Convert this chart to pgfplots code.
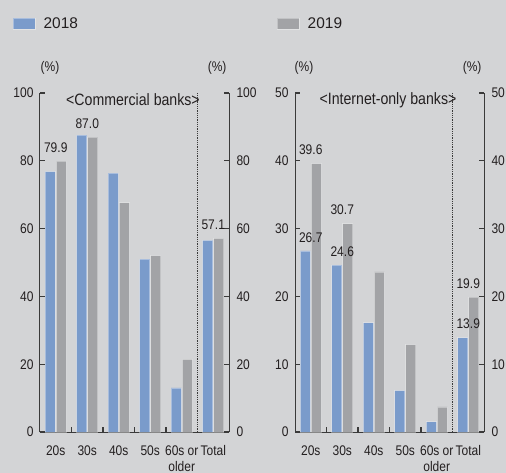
\documentclass[border=0pt]{standalone}
\usepackage{pgfplots}
\pgfplotsset{compat=1.18}
\usepackage{fontspec}
\setmainfont{Liberation Sans}
\newfontfamily\cond{Liberation Sans}[FakeStretch=0.86]
\definecolor{bg}{HTML}{D3D4D6}
\definecolor{cblue}{HTML}{7A9BCB}
\definecolor{cgray}{HTML}{A2A3A6}
\definecolor{txt}{HTML}{231F20}
\definecolor{axc}{HTML}{3A3A3A}
\pgfplotsset{
  panel/.style={
    scale only axis, width=189bp, height=339bp,
    xmin=-0.5, xmax=5.5, ymin=0,
    axis line style={axc, line width=1bp},
    major tick length=0pt,
    xtick={0,...,5},
    xticklabels={20s,30s,40s,50s,{60s or\\older},Total},
    x tick label style={font=\fontsize{14}{16}\cond, text=txt, align=center, yshift=-10bp},
    y tick label style={font=\fontsize{14}{15}\cond, text=txt},
    /pgf/number format/assume math mode=true,
    clip=false,
  },
  bars/.style={ybar, bar width=10bp, draw=white, draw opacity=0.35, line width=0.8bp,
    nodes near coords, point meta=explicit symbolic,
    every node near coord/.append style={font=\fontsize{14}{15}\cond, text=txt, anchor=south, yshift=5bp}},
}
\begin{document}
\begin{tikzpicture}
\fill[bg] (0,0) rectangle (506bp,473bp);
% ---------- Commercial banks ----------
\begin{axis}[panel, at={(40bp,41bp)}, anchor=south west,
  ymax=100, ytick={0,20,...,100},
  y tick label style={xshift=-3bp},
  axis x line*=bottom, axis y line*=left,
  legend style={at={(rel axis cs:-0.145,1.205)}, anchor=west, draw=none, fill=none,
    inner sep=0pt, legend columns=2, font=\fontsize{15.5}{16}\selectfont, text=txt,
    nodes={inner sep=0pt},
    /tikz/every odd column/.style={column sep=8bp},
    /tikz/every even column/.style={column sep=199bp}},
  legend image code/.code={\fill[#1] (0bp,-5.5bp) rectangle (22bp,5.5bp);},
  ]
\addplot[bars, bar shift=-5.5bp, fill=cblue] coordinates {
  (0,76.8) [] (1,87.6) [] (2,76.4) [] (3,51.0) [] (4,13.0) [] (5,56.5) []};
\addlegendentry{2018}
\addplot[bars, bar shift=5.5bp, fill=cgray] coordinates {
  (0,79.9) [79.9] (1,87.0) [87.0] (2,67.6) [] (3,52.0) [] (4,21.4) [] (5,57.1) [57.1]};
\addlegendentry{2019}
\draw[axc, densely dotted, line width=0.8bp] (axis cs:4.5,0) -- (axis cs:4.5,100);
\pgfplotsinvokeforeach{0.5,1.5,2.5,3.5}{\draw[axc, line width=1.3bp] (axis cs:#1,0) -- (axis cs:#1,1.4);}
\pgfplotsinvokeforeach{0,20,40,60,80,100}{
  \draw[axc, line width=1.3bp] (axis cs:-0.5,#1) -- (axis cs:-0.33,#1);
  \draw[axc, line width=1.3bp] (axis cs:5.5,#1) -- (axis cs:5.33,#1);}
\node[font=\fontsize{16.5}{17}\cond, text=txt] at (rel axis cs:0.492,1) [yshift=-7bp] {<Commercial banks>};
\node[font=\fontsize{14}{15}\cond, text=txt] at (rel axis cs:0.053,1) [yshift=25bp] {(\%)};
\node[font=\fontsize{14}{15}\cond, text=txt] at (rel axis cs:0.937,1) [yshift=25bp] {(\%)};
\end{axis}
\begin{axis}[panel, at={(40bp,41bp)}, anchor=south west,
  ymax=100, ytick={0,20,...,100},
  y tick label style={xshift=4bp},
  axis x line=none, axis y line*=right]
\end{axis}
% ---------- Internet-only banks ----------
\begin{axis}[panel, at={(295bp,41bp)}, anchor=south west,
  ymax=50, ytick={0,10,...,50},
  y tick label style={xshift=-3bp},
  axis x line*=bottom, axis y line*=left]
\addplot[bars, bar shift=-5.5bp, fill=cblue] coordinates {
  (0,26.7) [26.7] (1,24.6) [24.6] (2,16.1) [] (3,6.1) [] (4,1.5) [] (5,13.9) [13.9]};
\addplot[bars, bar shift=5.5bp, fill=cgray] coordinates {
  (0,39.6) [39.6] (1,30.7) [30.7] (2,23.6) [] (3,12.9) [] (4,3.7) [] (5,19.9) [19.9]};
\draw[axc, densely dotted, line width=0.8bp] (axis cs:4.5,0) -- (axis cs:4.5,50);
\pgfplotsinvokeforeach{0.5,1.5,2.5,3.5}{\draw[axc, line width=1.3bp] (axis cs:#1,0) -- (axis cs:#1,0.7);}
\pgfplotsinvokeforeach{0,10,20,30,40,50}{
  \draw[axc, line width=1.3bp] (axis cs:-0.5,#1) -- (axis cs:-0.33,#1);
  \draw[axc, line width=1.3bp] (axis cs:5.5,#1) -- (axis cs:5.33,#1);}
\node[font=\fontsize{16.5}{17}\cond, text=txt] at (rel axis cs:0.492,1) [yshift=-7bp] {<Internet-only banks>};
\node[font=\fontsize{14}{15}\cond, text=txt] at (rel axis cs:0.048,1) [yshift=25bp] {(\%)};
\node[font=\fontsize{14}{15}\cond, text=txt] at (rel axis cs:0.937,1) [yshift=25bp] {(\%)};
\end{axis}
\begin{axis}[panel, at={(295bp,41bp)}, anchor=south west,
  ymax=50, ytick={0,10,...,50},
  y tick label style={xshift=4bp},
  axis x line=none, axis y line*=right]
\end{axis}
\pgfresetboundingbox
\useasboundingbox (0,0) rectangle (506bp,473bp);
\end{tikzpicture}
\end{document}
